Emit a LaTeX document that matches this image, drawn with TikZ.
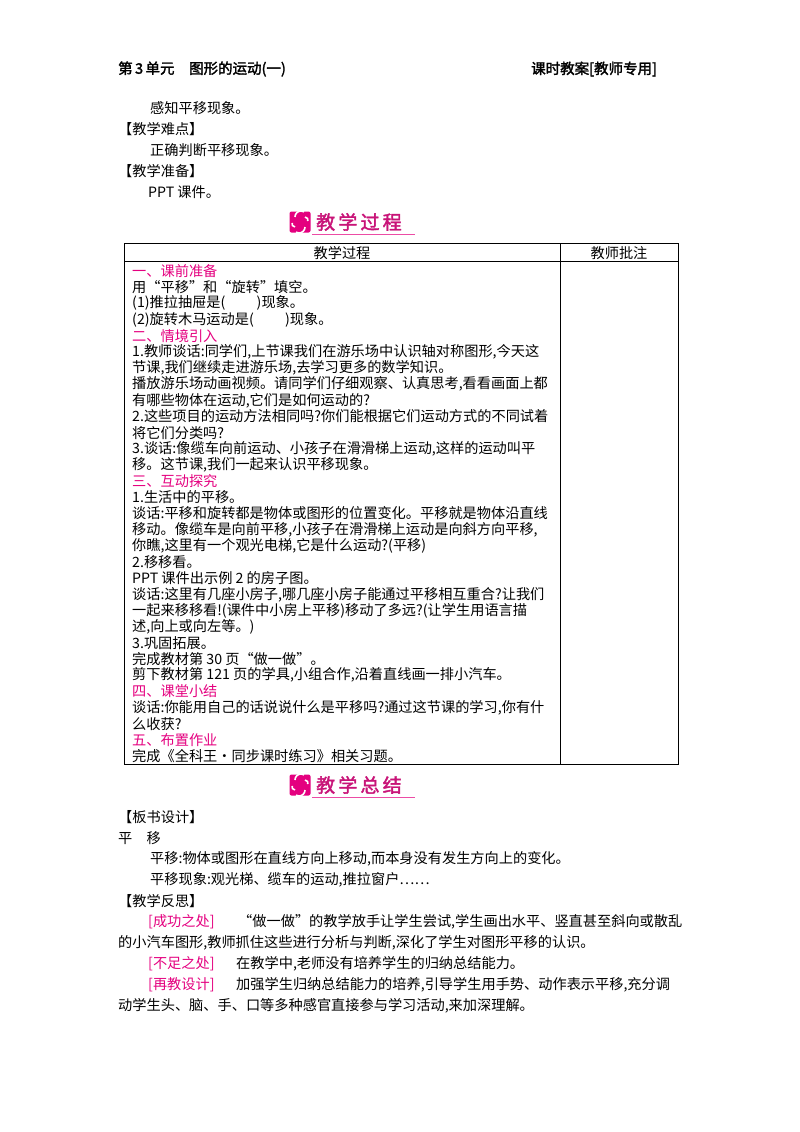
\documentclass[tikz,border=0pt]{standalone}
\usepackage{fontspec}
\setmainfont{Noto Sans CJK SC}
\newfontfamily\cjkb{Noto Sans CJK SC}[FakeBold=2]
\definecolor{mg}{RGB}{228,0,127}
\definecolor{bn}{RGB}{200,20,120}
\tikzset{t/.style={anchor=west,inner sep=0pt,font=\fontsize{14.2}{15}\selectfont},
 h/.style={t,text=mg},
 icon/.style={fill=mg,rounded corners=2pt,minimum size=21pt,inner sep=0pt}}
\begin{document}
\begin{tikzpicture}[x=1pt,y=-1pt]
\useasboundingbox (0,0) rectangle (800,1132);
% header
\node[t,font=\cjkb\fontsize{14.5}{15}\selectfont] (hl) at (118,69) {第\,3\,单元\quad 图形的运动(一)};
\node[t,font=\cjkb\fontsize{14.5}{15}\selectfont] (hr) at (531,69) {课时教案[教师专用]};
% top text
\node[t] (a1) at (150,108) {感知平移现象。};
\node[t] (a2) at (118,129) {【教学难点】};
\node[t] (a3) at (150,150) {正确判断平移现象。};
\node[t] (a4) at (118,171) {【教学准备】};
\node[t] (a5) at (148,192) {PPT 课件。};
% banners
\foreach \y/\nm in {222/b1,785/b2}{
  \node[icon] (\nm i) at (300,\y) {};
  \draw[white,line width=1.6pt] (\nm i.center) ++(-5,-5) arc (180:300:6);
  \draw[white,line width=1.6pt] (\nm i.center) ++(5,5) arc (0:120:6);
  \draw[white,line width=1.6pt] (\nm i.center) ++(-5,5) arc (90:200:3);
  \draw[white,line width=1.6pt] (\nm i.center) ++(5,-5) arc (270:380:3);
  \draw[mg!70,line width=1pt] (312,\y+12) -- (415,\y+12);
}
\node[anchor=west,inner sep=0pt,text=bn,font=\cjkb\fontsize{19}{20}\selectfont] (b1t) at (316,222) {教\,学\,过\,程};
\node[anchor=west,inner sep=0pt,text=bn,font=\cjkb\fontsize{19}{20}\selectfont] (b2t) at (316,785) {教\,学\,总\,结};
% table
\draw[line width=0.6pt] (124,243) rectangle (678,764);
\draw[line width=0.6pt] (124,261) -- (678,261);
\draw[line width=0.6pt] (560,243) -- (560,764);
\node[t,anchor=center] (th1) at (342,253) {教学过程};
\node[t,anchor=center] (th2) at (619,253) {教师批注};
\foreach \i/\s/\txt in {
0/h/{一、课前准备},
1/t/{用“平移”和“旋转”填空。},
2/t/{(1)推拉抽屉是(\hspace{2.2em})现象。},
3/t/{(2)旋转木马运动是(\hspace{2.2em})现象。},
4/h/{二、情境引入},
5/t/{1.教师谈话:同学们,上节课我们在游乐场中认识轴对称图形,今天这},
6/t/{节课,我们继续走进游乐场,去学习更多的数学知识。},
7/t/{播放游乐场动画视频。请同学们仔细观察、认真思考,看看画面上都},
8/t/{有哪些物体在运动,它们是如何运动的?},
9/t/{2.这些项目的运动方法相同吗?你们能根据它们运动方式的不同试着},
10/t/{将它们分类吗?},
11/t/{3.谈话:像缆车向前运动、小孩子在滑滑梯上运动,这样的运动叫平},
12/t/{移。这节课,我们一起来认识平移现象。},
13/h/{三、互动探究},
14/t/{1.生活中的平移。},
15/t/{谈话:平移和旋转都是物体或图形的位置变化。平移就是物体沿直线},
16/t/{移动。像缆车是向前平移,小孩子在滑滑梯上运动是向斜方向平移,},
17/t/{你瞧,这里有一个观光电梯,它是什么运动?(平移)},
18/t/{2.移移看。},
19/t/{PPT 课件出示例 2 的房子图。},
20/t/{谈话:这里有几座小房子,哪几座小房子能通过平移相互重合?让我们},
21/t/{一起来移移看!(课件中小房上平移)移动了多远?(让学生用语言描},
22/t/{述,向上或向左等。)},
23/t/{3.巩固拓展。},
24/t/{完成教材第 30 页“做一做”。},
25/t/{剪下教材第 121 页的学具,小组合作,沿着直线画一排小汽车。},
26/h/{四、课堂小结},
27/t/{谈话:你能用自己的话说说什么是平移吗?通过这节课的学习,你有什},
28/t/{么收获?},
29/h/{五、布置作业},
30/t/{完成《全科王·同步课时练习》相关习题。}}
{\node[\s] (r\i) at (132,271+16.17*\i) {\txt};}
% bottom
\node[t] (c1) at (118,817) {【板书设计】};
\node[t] (c2) at (118,838) {平\quad 移};
\node[t] (c3) at (150,859) {平移:物体或图形在直线方向上移动,而本身没有发生方向上的变化。};
\node[t] (c4) at (150,880) {平移现象:观光梯、缆车的运动,推拉窗户……};
\node[t] (c5) at (118,901) {【教学反思】};
\node[h] (c6) at (148,922) {[成功之处]};
\node[t] (c6b) at (238,922) {“做一做”的教学放手让学生尝试,学生画出水平、竖直甚至斜向或散乱};
\node[t] (c7) at (118,943) {的小汽车图形,教师抓住这些进行分析与判断,深化了学生对图形平移的认识。};
\node[h] (c8) at (148,964) {[不足之处]};
\node[t] (c8b) at (236,964) {在教学中,老师没有培养学生的归纳总结能力。};
\node[h] (c9) at (148,985) {[再教设计]};
\node[t] (c9b) at (236,985) {加强学生归纳总结能力的培养,引导学生用手势、动作表示平移,充分调};
\node[t] (c10) at (118,1006) {动学生头、脑、手、口等多种感官直接参与学习活动,来加深理解。};
\end{tikzpicture}
\end{document}
